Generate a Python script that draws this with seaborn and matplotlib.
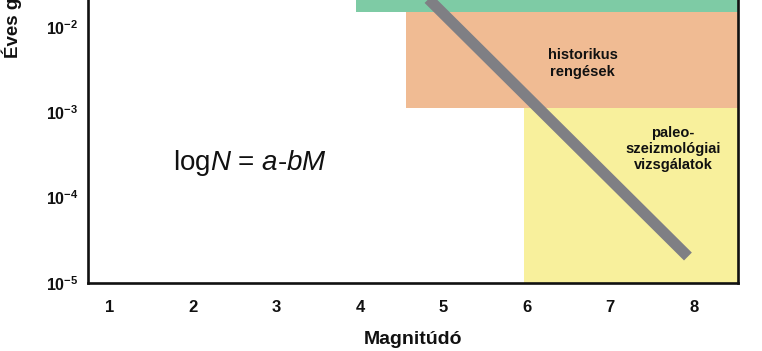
import numpy as np
import pandas as pd
import matplotlib
matplotlib.use("Agg")
import matplotlib.pyplot as plt
import seaborn as sns

# ---- data ----
x_ticks = [1, 2, 3, 4, 5, 6, 7, 8]
x_tick_labels = ["1", "2", "3", "4", "5", "6", "7", "8"]
y_ticks = [1e-2, 1e-3, 1e-4, 1e-5]
y_tick_labels = [r"$\mathbf{10^{-2}}$", r"$\mathbf{10^{-3}}$",
                 r"$\mathbf{10^{-4}}$", r"$\mathbf{10^{-5}}$"]

# Gutenberg-Richter line (magnitude, log10 annual frequency)
line_m = [4.6, 7.93]
line_logn = [-1.46, -4.69]

# data-source bands: (x start, y low, y high)
band_names = ["muszeres", "historikus", "paleo"]
band_x_start = [3.95, 4.55, 5.96]
band_y_low = [10 ** -1.83, 10 ** -2.95, 1e-5]
band_y_high = [1e-1, 10 ** -1.83, 10 ** -2.95]
band_colors = ["#7ecba5", "#f0bb93", "#f8f09c"]

label_hist = "historikus\nrengések"
label_paleo = "paleo-\nszeizmológiai\nvizsgálatok"

x_lim = (0.74, 8.53)
y_lim = (1e-5, 10 ** -1.686)

# ---- style ----
sns.set_theme(style="white")
plt.rcParams["font.family"] = ["Liberation Sans", "DejaVu Sans"]
plt.rcParams["mathtext.fontset"] = "custom"
plt.rcParams["mathtext.rm"] = "Liberation Sans"
plt.rcParams["mathtext.it"] = "Liberation Sans:italic"
plt.rcParams["mathtext.bf"] = "Liberation Sans:bold"
plt.rcParams["text.color"] = "#111111"
plt.rcParams["axes.labelcolor"] = "#111111"
plt.rcParams["xtick.color"] = "#111111"
plt.rcParams["ytick.color"] = "#111111"

W, H = 762, 351
fig = plt.figure(figsize=(W / 100, H / 100), dpi=100)
ax = fig.add_axes([88 / W, 1 - 283 / H, (738 - 88) / W, 283 / H])

for xs, yl, yh, c in zip(band_x_start, band_y_low, band_y_high, band_colors):
    ax.fill_between([xs, x_lim[1]], [yl, yl], [yh, yh], color=c, lw=0, zorder=1)

df = pd.DataFrame({"M": line_m, "N": [10 ** v for v in line_logn]})
sns.lineplot(data=df, x="M", y="N", ax=ax, color="#7f7f84", linewidth=8,
             solid_capstyle="butt", zorder=3)

ax.set_yscale("log")
ax.set_xlim(*x_lim)
ax.set_ylim(*y_lim)
ax.set_xticks(x_ticks)
ax.set_xticklabels(x_tick_labels, fontsize=12, fontweight="bold")
ax.set_yticks(y_ticks)
ax.set_yticklabels(y_tick_labels, fontsize=11.5)
ax.yaxis.set_minor_locator(matplotlib.ticker.NullLocator())
ax.tick_params(axis="x", length=0, pad=12, labelcolor="#111111")
ax.tick_params(axis="y", length=0, pad=7, labelcolor="#111111")

for s in ["left", "bottom", "right"]:
    ax.spines[s].set_visible(True)
    ax.spines[s].set_color("#111111")
    ax.spines[s].set_linewidth(1.9)
    ax.spines[s].set_zorder(5)
ax.spines["top"].set_visible(False)

ax.set_xlabel("Magnitúdó", fontsize=14, fontweight="bold", labelpad=12,
              color="#111111")
ax.set_ylabel("")
fig.text(12 / W, 1 - 58 / H, "Éves gyakoriság", rotation=90, ha="center",
         va="bottom", fontsize=13.5, fontweight="bold", color="#111111")

ax.text(6.67, 10 ** -2.43, label_hist, ha="center", va="center",
        fontsize=10.5, fontweight="bold", linespacing=1.3, zorder=4,
        color="#111111")
ax.text(7.75, 10 ** -3.43, label_paleo, ha="center", va="center",
        fontsize=10.5, fontweight="bold", linespacing=1.2, zorder=4,
        color="#111111")
ax.text(2.68, 10 ** -3.6, r"log$\mathit{N}$ = $\mathit{a}$-$\mathit{bM}$",
        ha="center", va="center", fontsize=20, zorder=4, color="#111111")

fig.savefig("out.png", dpi=100)
